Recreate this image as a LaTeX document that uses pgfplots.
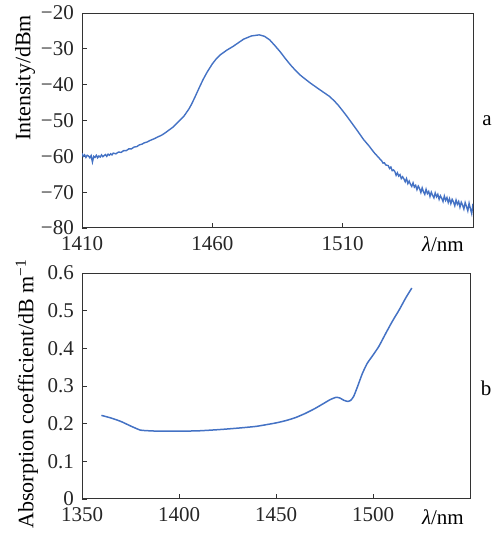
\documentclass[border=0pt]{standalone}
\usepackage{pgfplots}
\pgfplotsset{compat=1.18}
\usepackage{fontspec}
\setmainfont{Liberation Serif}
\definecolor{curve}{RGB}{68,114,196}
\definecolor{axcol}{RGB}{51,51,51}
\begin{document}
\fontsize{21bp}{24bp}\selectfont
\begin{tikzpicture}
\path[use as bounding box] (0bp,0bp) rectangle (497bp,-533bp);
\pgfplotsset{
  myax/.style={
    scale only axis,
    axis line style={axcol,line width=1bp},
    tick style={axcol,line width=0.9bp},
    major tick length=5bp,
    tick align=inside,
    xtick pos=bottom, ytick pos=left,
    /pgf/number format/assume math mode=true,
    /pgf/number format/set thousands separator={},
    tick label style={font=\fontsize{21bp}{24bp}\selectfont, text=black!85},
    xticklabel style={yshift=-1.5bp},
    yticklabel style={xshift=-1bp},
  }
}
% top panel
\begin{axis}[myax,
  at={(82bp,-13bp)}, anchor=north west,
  width=391bp, height=215bp,
  xmin=1410, xmax=1560, ymin=-80, ymax=-20,
  xtick={1410,1460,1510},
  xticklabels={1410,1460,1510},
  ytick={-80,-70,-60,-50,-40,-30,-20},
  yticklabels={−80,−70,−60,−50,−40,−30,−20},
]
\addplot[curve, line width=1.4bp] coordinates {
(1410,-59.2)(1410.5,-60.0)(1411,-59.6)(1411.5,-60.3)(1412,-59.7)(1412.5,-59.9)
(1413,-60.4)(1413.5,-59.8)(1414,-61.6)(1414.5,-60.0)(1415,-60.3)(1415.5,-59.7)
(1416,-60.4)(1416.5,-59.9)(1417,-60.2)(1417.5,-59.6)(1418,-60.1)(1418.5,-59.8)
(1419,-59.5)(1419.5,-60.0)(1420,-59.4)(1420.5,-59.7)(1421,-59.3)(1421.5,-59.6)
(1422,-59.1)(1423,-59.3)(1424,-58.8)(1425,-58.9)(1426,-58.4)(1427,-58.4)
(1428,-57.9)(1429,-57.9)(1430,-57.4)(1431,-57.3)(1432,-56.8)(1433,-56.6)
(1434,-56.2)(1435,-56.0)(1436,-55.6)(1437,-55.3)(1438,-55.0)(1439,-54.6)
(1440,-54.3)(1441,-53.9)(1442,-53.4)(1445,-51.8)(1447,-50.3)(1449,-48.9)
(1451,-46.8)(1452,-45.5)(1453.5,-43.2)(1455,-40.8)(1456.5,-38.5)(1458,-36.5)
(1460,-34.2)(1461.5,-32.8)(1463,-31.7)(1465.5,-30.4)(1468,-29.3)(1470,-28.3)
(1472,-27.3)(1475,-26.4)(1478,-26.1)(1480,-26.5)(1482,-27.5)(1484,-29.1)
(1486,-30.8)(1488,-32.7)(1490,-34.5)(1492,-36.1)(1494,-37.5)(1497.5,-39.5)
(1501,-41.3)(1503,-42.3)(1505,-43.3)(1507,-44.7)(1508.5,-45.9)(1510,-47.3)
(1511.5,-48.7)(1513,-50.2)(1515.5,-52.7)(1518,-55.3)(1520,-57.0)(1522,-58.9)
(1524,-60.5)
(1525.0,-61.3)(1525.5,-61.9)(1526.0,-61.8)(1526.5,-62.4)(1527.0,-62.5)(1527.5,-62.6)
(1528.0,-63.4)(1528.5,-63.0)(1529.0,-64.0)(1529.5,-63.8)(1530.0,-64.2)(1530.5,-65.3)
(1531.0,-64.6)(1531.5,-65.5)(1532.0,-65.1)(1532.5,-66.2)(1533.0,-65.7)(1533.5,-66.3)
(1534.0,-67.1)(1534.5,-66.2)(1535.0,-67.6)(1535.5,-66.9)(1536.0,-67.8)(1536.5,-68.4)
(1537.0,-67.4)(1537.5,-68.6)(1538.0,-68.1)(1538.5,-69.3)(1539.0,-68.3)(1539.5,-69.0)
(1540.0,-70.1)(1540.5,-68.8)(1541.0,-69.9)(1541.5,-70.6)(1542.0,-69.2)(1542.5,-70.4)
(1543.0,-69.8)(1543.5,-71.2)(1544.0,-70.0)(1544.5,-70.9)(1545.0,-71.6)(1545.5,-70.2)
(1546.0,-71.3)(1546.5,-70.6)(1547.0,-72.0)(1547.5,-71.0)(1548.0,-71.7)(1548.5,-72.6)
(1549.0,-71.1)(1549.5,-72.3)(1550.0,-71.5)(1550.5,-72.9)(1551.0,-71.8)(1551.5,-73.2)
(1552.0,-72.0)(1552.5,-72.7)(1553.0,-73.8)(1553.5,-72.2)(1554.0,-73.4)(1554.5,-72.6)
(1555.0,-74.2)(1555.5,-72.8)(1556.0,-73.6)(1556.5,-74.7)(1557.0,-72.9)(1557.5,-74.0)
(1558.0,-75.2)(1558.5,-73.1)(1559.0,-74.6)(1559.5,-76.0)(1560.0,-73.2)
};
\end{axis}
% bottom panel
\begin{axis}[myax,
  at={(82bp,-273bp)}, anchor=north west,
  width=388bp, height=226bp,
  xmin=1350, xmax=1550, ymin=0, ymax=0.6,
  xtick={1350,1400,1450,1500},
  xticklabels={1350,1400,1450,1500},
  ytick={0,0.1,0.2,0.3,0.4,0.5,0.6},
  yticklabels={0,0.1,0.2,0.3,0.4,0.5,0.6},
]
\addplot[curve, line width=1.5bp, smooth, tension=0.3] coordinates {
(1360,0.222)(1365,0.215)(1370,0.206)(1375,0.194)(1380,0.183)(1385,0.181)
(1390,0.180)(1400,0.180)(1410,0.181)(1420,0.184)(1430,0.188)(1440,0.193)
(1450,0.202)(1455,0.208)(1460,0.216)(1465,0.227)(1470,0.240)(1475,0.255)
(1478,0.264)(1481,0.270)(1483,0.268)(1485,0.262)(1487,0.259)(1488.5,0.262)
(1490,0.272)(1492,0.298)(1494.5,0.333)(1497,0.360)(1500,0.382)(1503,0.405)
(1506.7,0.441)(1510,0.472)(1513.6,0.503)(1517,0.535)(1520,0.560)
};
\end{axis}
% labels
\node[rotate=90, font=\fontsize{22bp}{24bp}\selectfont] at (25bp,-78bp) {Intensity/dBm};
\node[rotate=90, font=\fontsize{22bp}{24bp}\selectfont] at (27bp,-394bp) {Absorption coefficient/dB m\textsuperscript{−1}};
\node[anchor=base east] at (471bp,-251bp) {\textit{λ}/nm};
\node[anchor=base east] at (471bp,-524bp) {\textit{λ}/nm};
\node at (487bp,-121bp) {a};
\node at (486bp,-388bp) {b};
\end{tikzpicture}
\end{document}
